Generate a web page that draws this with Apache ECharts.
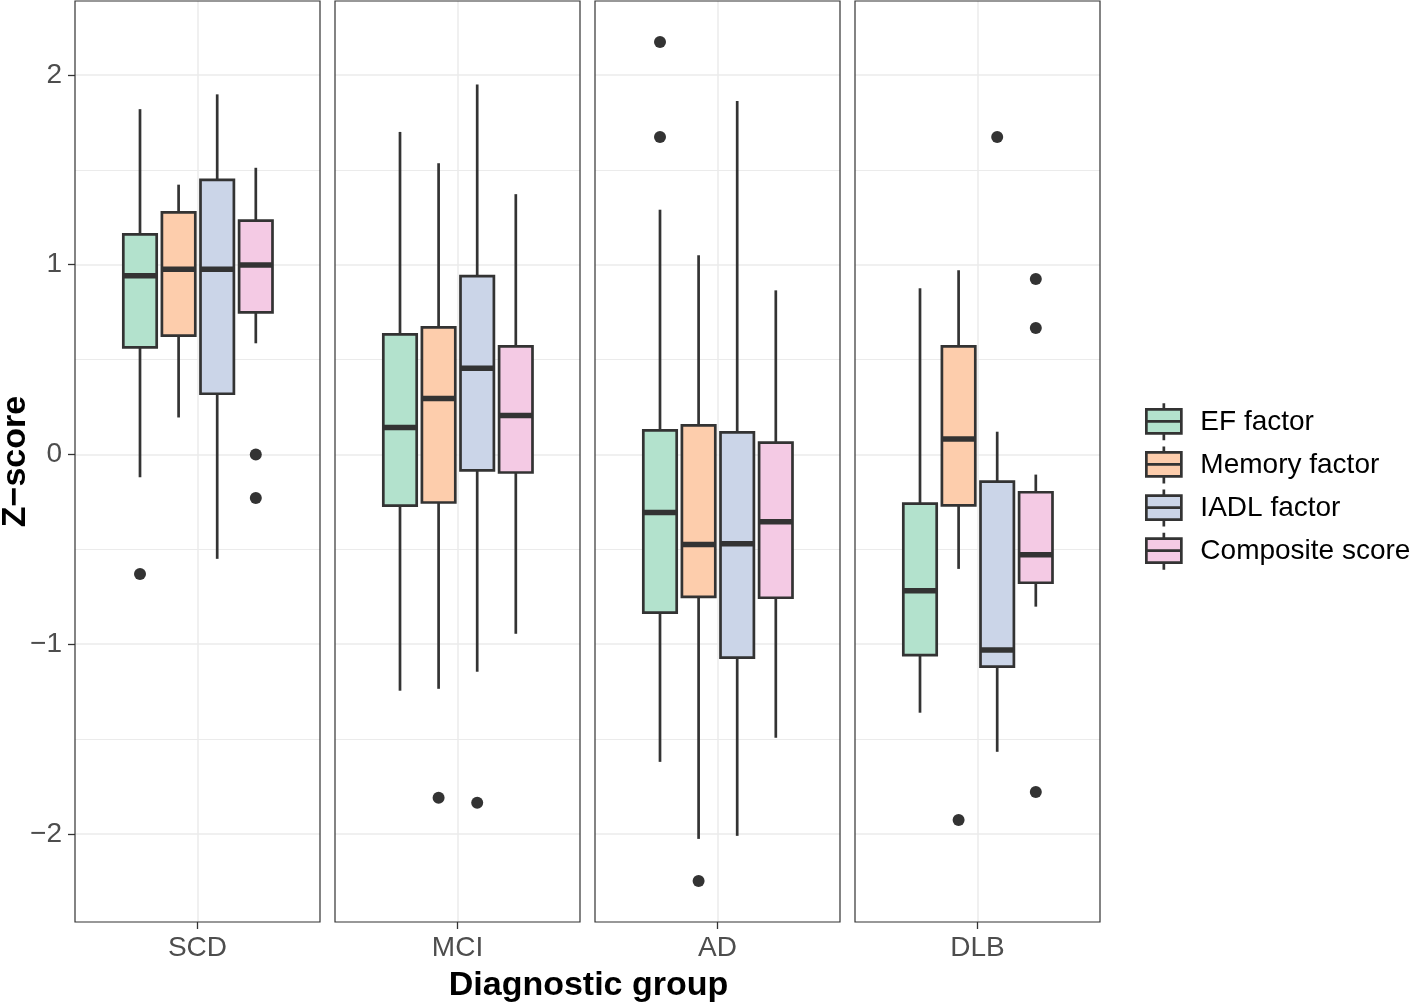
<!DOCTYPE html>
<html><head><meta charset="utf-8">
<script src="https://cdn.jsdelivr.net/npm/echarts@6/dist/echarts.min.js"></script>
<style>html,body{margin:0;padding:0;background:#fff}#c{width:1418px;height:1004px}</style>
</head><body><div id="c"></div>
<script>
const groups = ['SCD', 'MCI', 'AD', 'DLB'];
const factors = ['EF factor', 'Memory factor', 'IADL factor', 'Composite score'];
const colors = ['#B3E2CD', '#FDCDAC', '#CBD5E8', '#F4CAE4'];

// [lower whisker, Q1, median, Q3, upper whisker] for SCD, MCI, AD, DLB
const efBoxes = [
  [-0.12, 0.565, 0.942, 1.160, 1.82],
  [-1.245, -0.27, 0.142, 0.633, 1.70],
  [-1.62, -0.834, -0.306, 0.127, 1.29],
  [-1.361, -1.057, -0.718, -0.259, 0.876]
];
const memoryBoxes = [
  [0.195, 0.626, 0.976, 1.276, 1.422],
  [-1.235, -0.253, 0.295, 0.67, 1.535],
  [-2.026, -0.75, -0.475, 0.153, 1.05],
  [-0.603, -0.268, 0.082, 0.57, 0.971]
];
const iadlBoxes = [
  [-0.55, 0.32, 0.976, 1.447, 1.898],
  [-1.145, -0.084, 0.454, 0.94, 1.95],
  [-2.01, -1.071, -0.47, 0.116, 1.863],
  [-1.567, -1.118, -1.030, -0.143, 0.120]
];
const compositeBoxes = [
  [0.586, 0.749, 0.999, 1.232, 1.511],
  [-0.945, -0.095, 0.206, 0.57, 1.372],
  [-1.493, -0.755, -0.354, 0.063, 0.865],
  [-0.802, -0.676, -0.528, -0.199, -0.106]
];
// outliers: [group index, value]
const efOutliers = [[0, -0.63], [2, 2.174], [2, 1.673]];
const memoryOutliers = [[1, -1.809], [2, -2.248], [3, -1.926]];
const iadlOutliers = [[1, -1.836], [3, 1.673]];
const compositeOutliers = [[0, 0.0], [0, -0.229], [3, 0.925], [3, 0.667], [3, -1.779]];

const yTicks = [-2, -1, 0, 1, 2];
const yMinorTicks = [-1.5, -0.5, 0.5, 1.5];
const yMin = -2.464, yMax = 2.39;

const boxes = [efBoxes, memoryBoxes, iadlBoxes, compositeBoxes];
const outliers = [efOutliers, memoryOutliers, iadlOutliers, compositeOutliers];

const FONT = 'Liberation Sans';
const dark = '#333333';
const grid = [], xAxis = [], yAxis = [], series = [];
const minus = v => (v < 0 ? '\u2212' + Math.abs(v) : String(v));

for (let i = 0; i < 4; i++) {
  const pl = 75 + 260 * i;
  grid.push({ left: pl, top: 1, width: 245, height: 921, show: true, borderColor: dark, borderWidth: 1.2,
    backgroundColor: 'transparent', containLabel: false, outerBoundsMode: 'none' });
}
for (let i = 0; i < 4; i++) {
  const pl = 75 + 260 * i;
  grid.push({ left: pl + 45.7, top: 1, width: 154.4, height: 921, containLabel: false, outerBoundsMode: 'none' });
}
for (let i = 0; i < 4; i++) {
  xAxis.push({
    type: 'value', gridIndex: i, min: 0, max: 2, z: -1, position: 'bottom',
    axisLine: { show: false, onZero: false },
    axisTick: { show: true, customValues: [1], length: 7, lineStyle: { color: dark, width: 1.3 } },
    axisLabel: { customValues: [1], formatter: () => groups[i], fontSize: 28, color: '#4d4d4d', margin: 12, fontFamily: FONT },
    splitLine: { show: true, lineStyle: { color: '#ebebeb', width: 1.5 } }
  });
}
for (let i = 0; i < 4; i++) {
  xAxis.push({ type: 'category', gridIndex: 4 + i, data: factors, show: false, boundaryGap: true,
    axisLine: { onZero: false } });
}
for (let i = 0; i < 4; i++) {
  yAxis.push({
    type: 'value', gridIndex: i, min: yMin, max: yMax, z: -1, position: 'left',
    axisLine: { show: false, onZero: false },
    axisTick: { show: i === 0, customValues: yTicks, length: 7, lineStyle: { color: dark, width: 1.3 } },
    axisLabel: { show: i === 0, customValues: yTicks, formatter: minus, fontSize: 28, color: '#4d4d4d', margin: 13, fontFamily: FONT },
    splitLine: { show: true, lineStyle: { color: '#ebebeb', width: 1.5 } }
  });
}
for (let i = 0; i < 4; i++) {
  yAxis.push({
    type: 'value', gridIndex: i, min: yMin, max: yMax, z: -2, position: 'left',
    axisLine: { show: false, onZero: false }, axisLabel: { show: false },
    axisTick: { show: false, customValues: yMinorTicks },
    splitLine: { show: true, lineStyle: { color: '#ebebeb', width: 1 } }
  });
}
for (let i = 0; i < 4; i++) {
  yAxis.push({ type: 'value', gridIndex: 4 + i, min: yMin, max: yMax, show: false, axisLine: { onZero: false } });
}

function renderBox(params, api) {
  const x = api.value(0);
  const lo = api.coord([x, api.value(1)]);
  const q1 = api.coord([x, api.value(2)]);
  const md = api.coord([x, api.value(3)]);
  const q3 = api.coord([x, api.value(4)]);
  const hi = api.coord([x, api.value(5)]);
  const bw = api.size([1, 0])[0] * 0.865;
  const cx = lo[0];
  const lw = 2.7;
  return {
    type: 'group',
    children: [
      { type: 'line', shape: { x1: cx, y1: hi[1], x2: cx, y2: q3[1] }, style: { stroke: dark, lineWidth: lw } },
      { type: 'line', shape: { x1: cx, y1: q1[1], x2: cx, y2: lo[1] }, style: { stroke: dark, lineWidth: lw } },
      { type: 'rect', shape: { x: cx - bw / 2, y: q3[1], width: bw, height: q1[1] - q3[1] }, style: { fill: api.visual('color'), stroke: dark, lineWidth: lw } },
      { type: 'line', shape: { x1: cx - bw / 2, y1: md[1], x2: cx + bw / 2, y2: md[1] }, style: { stroke: dark, lineWidth: 5.5 } }
    ]
  };
}

for (let f = 0; f < 4; f++) {
  for (let i = 0; i < 4; i++) {
    series.push({
      type: 'custom', name: factors[f], xAxisIndex: 4 + i, yAxisIndex: 8 + i,
      itemStyle: { color: colors[f] },
      encode: { x: 0, y: [1, 2, 3, 4, 5] },
      data: [[f].concat(boxes[f][i])],
      renderItem: renderBox, z: 3
    });
  }
}
for (let f = 0; f < 4; f++) {
  for (let i = 0; i < 4; i++) {
    const pts = outliers[f].filter(p => p[0] === i).map(p => [f, p[1]]);
    if (!pts.length) continue;
    series.push({
      type: 'scatter', name: 'outlier', xAxisIndex: 4 + i, yAxisIndex: 8 + i,
      symbol: 'circle', symbolSize: 12, itemStyle: { color: dark, opacity: 1 },
      data: pts, z: 4, silent: true
    });
  }
}

const iconPath = 'path://M17.5,0L17.5,6M1.5,6L33.5,6L33.5,30L1.5,30ZM1.5,18L33.5,18M17.5,30L17.5,37';

const chart = echarts.init(document.getElementById('c'), null, { renderer: 'canvas' });
chart.setOption({
  animation: false,
  backgroundColor: '#ffffff',
  textStyle: { fontFamily: FONT },
  title: {
    text: 'Diagnostic group', left: 583.5, textAlign: 'center', top: 964,
    textStyle: { fontSize: 34, fontWeight: 'bold', color: '#000', fontFamily: FONT }
  },
  graphic: [{
    type: 'text', x: 16, y: 461.5, rotation: Math.PI / 2,
    style: { text: 'Z\u2212score', font: 'bold 34px "Liberation Sans"', fill: '#000', align: 'center', verticalAlign: 'middle' }
  }],
  legend: {
    orient: 'vertical', left: 1145, top: 402, padding: 0,
    itemWidth: 35, itemHeight: 37, itemGap: 3.4, selectedMode: false,
    symbolKeepAspect: false,
    data: factors.map(n => ({ name: n, icon: iconPath })),
    itemStyle: { borderColor: dark, borderWidth: 2.7 },
    textStyle: { fontSize: 28, lineHeight: 37, color: '#000', fontFamily: FONT, padding: [0, 0, 0, 14] }
  },
  grid, xAxis, yAxis, series
});
</script></body></html>
